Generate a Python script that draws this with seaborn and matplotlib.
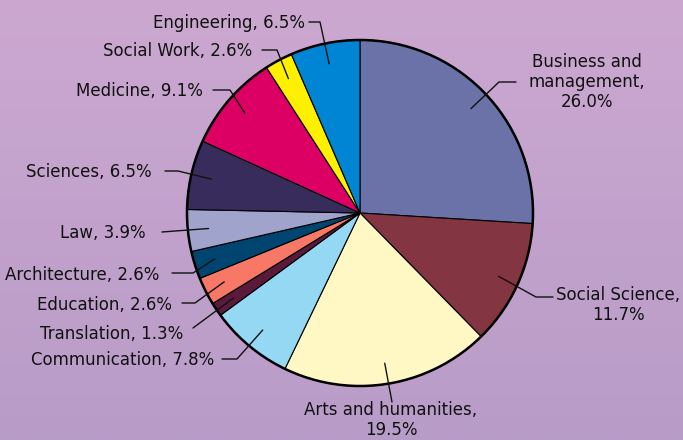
import numpy as np
import matplotlib
matplotlib.use("Agg")
import matplotlib.pyplot as plt
import seaborn as sns
from matplotlib.patches import Circle

sns.set_theme(style="white")
plt.rcParams['font.family'] = ['DejaVu Sans']

# data, clockwise from 12 o'clock
fields = ['Business and\nmanagement,\n26.0%', 'Social Science,\n11.7%', 'Arts and humanities,\n19.5%',
          'Communication, 7.8%', 'Translation, 1.3%', 'Education, 2.6%', 'Architecture, 2.6%',
          'Law, 3.9%', 'Sciences, 6.5%', 'Medicine, 9.1%', 'Social Work, 2.6%', 'Engineering, 6.5%']
shares = [26.0, 11.7, 19.5, 7.8, 1.3, 2.6, 2.6, 3.9, 6.5, 9.1, 2.6, 6.5]
colors = sns.color_palette(['#6b72a8', '#843542', '#fff8c4', '#94d8f4', '#5a1a3a', '#f87868',
                            '#004470', '#a0a4cc', '#382c5c', '#dc0064', '#fff000', '#0084d4'])

# label layout in pixel coords (y down): text anchor, alignment, leader start, elbow
text_pos = [(587, 82), (618, 305), (391, 420), (214, 360), (183, 334), (172, 305), (159, 275),
            (146, 233), (152, 172), (203, 91), (252, 51), (305, 23)]
text_ha = ['center', 'center', 'center', 'right', 'right', 'right', 'right',
           'right', 'right', 'right', 'right', 'right']
lead_start = [(516, 82), (553, 297), (392, 402), (222, 359), (193, 328), (182, 303), (172, 273),
              (162, 232), (165, 171), (213, 90), (262, 50), (309, 22)]
lead_elbow = [(499, 82), (536, 297), (392, 402), (237, 359), (193, 328), (195, 303), (193, 273),
              (162, 232), (178, 171), (230, 90), (277, 50), (320, 22)]

W, H = 683, 440
cx, cy, r = 360, 213, 173

fig = plt.figure(figsize=(6.83, 4.40), dpi=100)
bg = fig.add_axes([0, 0, 1, 1], zorder=0)
top = np.array([204, 168, 208]) / 255
bot = np.array([184, 156, 200]) / 255
t = np.linspace(0, 1, 256)[:, None, None]
grad = top * (1 - t) + bot * t
bg.imshow(np.repeat(grad, 4, axis=1), aspect='auto', extent=[0, 1, 0, 1])
bg.axis('off')

ax = fig.add_axes([0, 0, 1, 1], zorder=1)
ax.patch.set_alpha(0)

wedges, _ = ax.pie(shares, colors=colors, startangle=90, counterclock=False,
                   center=(cx, H - cy), radius=r, frame=True,
                   wedgeprops=dict(edgecolor='black', linewidth=0.8))
ax.set_xlim(0, W)
ax.set_ylim(0, H)
ax.set_aspect('equal')
ax.axis('off')
ax.add_patch(Circle((cx, H - cy), r, fill=False, edgecolor='black', linewidth=1.8, zorder=5))

for w, lab, tp, ha, s, e in zip(wedges, fields, text_pos, text_ha, lead_start, lead_elbow):
    mid = np.deg2rad((w.theta1 + w.theta2) / 2)
    tip = (cx + 0.88 * r * np.cos(mid), H - cy + 0.88 * r * np.sin(mid))
    ax.plot([s[0], e[0], tip[0]], [H - s[1], H - e[1], tip[1]], color='#111111', lw=1.0, zorder=6)
    ax.text(tp[0], H - tp[1], lab, ha=ha, va='center', fontsize=12, color='#111111',
            linespacing=1.15, zorder=7)

fig.savefig('out.png', dpi=100)
